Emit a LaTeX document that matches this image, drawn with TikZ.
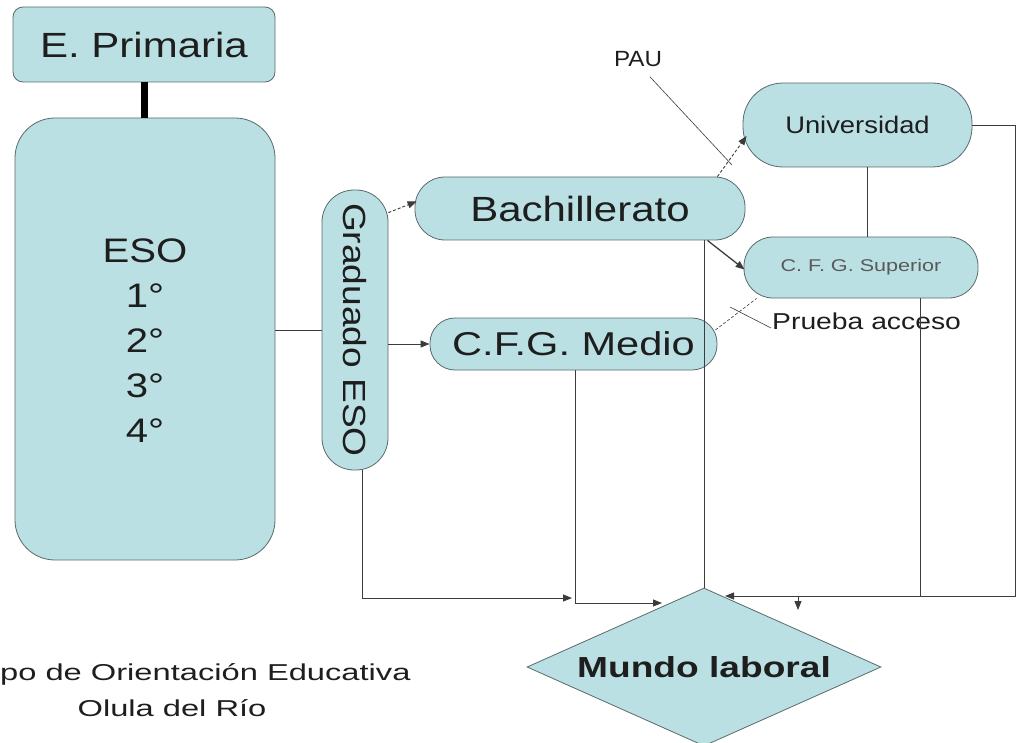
\documentclass[tikz,border=0pt]{standalone}
\usepackage{fontspec}
\setmainfont{Liberation Sans}
\usepackage{graphicx}
\usetikzlibrary{shapes.geometric,arrows.meta,calc}
\definecolor{boxfill}{RGB}{187,224,228}
\definecolor{boxline}{RGB}{90,105,105}
\definecolor{conncol}{RGB}{60,60,60}
\definecolor{txt}{RGB}{30,30,30}
\newcommand{\hs}[2]{\scalebox{#1}[1]{#2}}
\newcommand{\fs}[1]{\fontsize{#1}{#1}\selectfont}
\begin{document}
\begin{tikzpicture}[x=1pt,y=-1pt,
  box/.style={draw=boxline, fill=boxfill, line width=0.8pt, inner sep=0pt, text=txt},
  conn/.style={draw=conncol, line width=0.9pt},
  arr/.style={conn, -{Triangle[length=9pt,width=7pt]}},
  dasharr/.style={arr, densely dashed},
  lbl/.style={inner sep=0pt, text=txt},
]
\useasboundingbox (0,0) rectangle (1019,743);

% boxes
\node[box, rounded corners=10pt, minimum width=262pt, minimum height=75pt] (prim) at (144,44.5)
  {\fs{35}\hs{1.2}{E. Primaria}};
\node[box, rounded corners=40pt, minimum width=260pt, minimum height=442pt] (eso) at (145,339) {};
\node[lbl, align=center, font={\fontsize{34}{45}\selectfont}] (esotext) at (145,341)
  {\hs{1.18}{ESO}\\\hs{1.18}{1°}\\\hs{1.18}{2°}\\\hs{1.18}{3°}\\\hs{1.18}{4°}};
\node[box, rounded corners=32pt, minimum width=66pt, minimum height=280pt] (grad) at (355,330)
  {\rotatebox{-90}{\fs{32}\hs{1.16}{Graduado ESO}}};
\node[box, rounded corners=30pt, minimum width=330pt, minimum height=63pt] (bach) at (580,208.5)
  {\fs{35}\hs{1.2}{Bachillerato}};
\node[box, rounded corners=25pt, minimum width=287pt, minimum height=52pt] (medio) at (573.5,344)
  {\fs{33}\hs{1.26}{C.F.G. Medio}};
\node[box, rounded corners=40pt, minimum width=229pt, minimum height=84pt] (univ) at (857.5,125)
  {\fs{24}\hs{1.14}{Universidad}};
\node[box, rounded corners=29pt, minimum width=234pt, minimum height=61pt, text=black!65] (sup) at (861,267.5)
  {\fs{17}\hs{1.27}{C. F. G. Superior}};
\node[box, diamond, aspect=2.24, minimum width=354pt, minimum height=158pt] (mundo) at (704,667)
  {\fs{29}\bfseries\hs{1.28}{Mundo laboral}};

% labels
\node[lbl] (pau) at (638,59) {\fs{22}\hs{1.1}{PAU}};
\node[lbl, anchor=west] (prueba) at (772,321) {\fs{23}\hs{1.23}{Prueba acceso}};
\node[lbl, anchor=west] (foot1) at (0,674) {\fs{23}\hs{1.42}{po de Orientación Educativa}};
\node[lbl] (foot2) at (172,708) {\fs{23}\hs{1.42}{Olula del Río}};

% free-end coordinates
\coordinate (pautip) at (732,165);
\coordinate (pruebatip) at (730,307);
\coordinate (g2) at (572,598);
\coordinate (m2) at (662,603);
\coordinate (s2) at (725,596);
\coordinate (ucorner) at (1015,596);
\coordinate (u2) at (798,610);

% connectors
\draw[line width=7pt, black] (prim.south) -- (prim.south |- eso.north);
\draw[conn] (eso.east |- grad.west) -- (grad.west);
\draw[dasharr] ($(grad.north east)+(0,23)$) -- ($(bach.west)+(2,-7)$);
\draw[arr] (grad.east |- medio.west) -- (medio.west);
\draw[dasharr] ($(bach.north east)+(-28,0)$) -- ($(univ.west)+(4,11)$);
\draw[conn, line width=0.6pt] ($(pau.south)+(12,10)$) -- (pautip);
\draw[arr, line width=1.3pt] ($(bach.south east)+(-38,0)$) -- ($(sup.west)+(1,2)$);
\draw[conn] ($(univ.south)+(9.5,0)$) -- ($(sup.north)+(6,0)$);
\draw[conn, line width=0.6pt, densely dashed] ($(medio.east)+(-2,-14)$) -- ($(sup.south west)+(13,0)$);
\draw[conn, line width=0.6pt] ($(prueba.west)+(-1,7)$) -- (pruebatip);
\draw[arr] ($(grad.south)+(7,0)$) |- (g2);
\draw[arr] ($(medio.south)+(1.5,0)$) |- (m2);
\draw[conn] ($(bach.south)+(124,0)$) -- (mundo.north);
\draw[arr] ($(sup.south)+(59,0)$) |- (s2);
\draw[arr] (univ.east) -| (ucorner) -| (u2);
\end{tikzpicture}
\end{document}
